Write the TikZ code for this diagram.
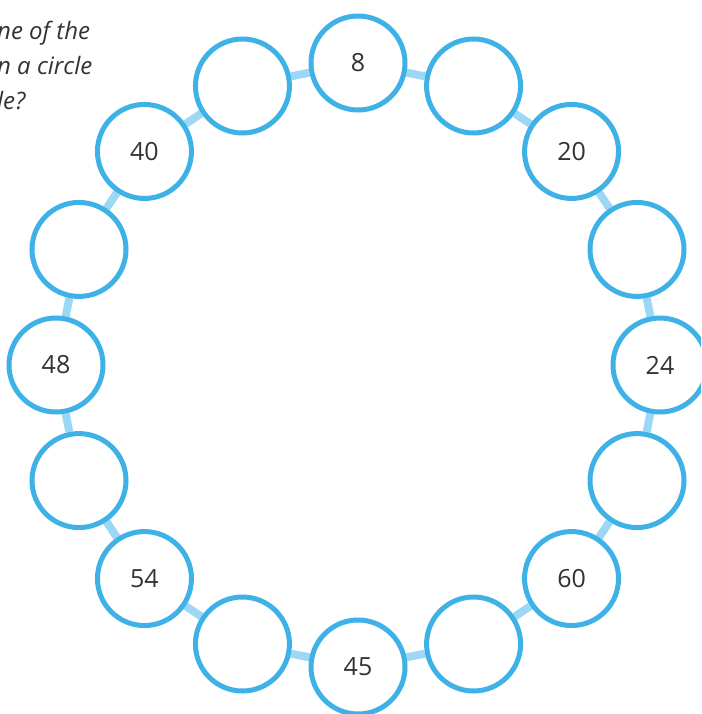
\documentclass[tikz,border=0pt]{standalone}
\usepackage{fontspec}
\setmainfont{Open Sans}
\usetikzlibrary{backgrounds}
\definecolor{ringblue}{RGB}{62,177,230}
\definecolor{linkblue}{RGB}{156,216,245}
\definecolor{inkgrey}{RGB}{51,51,51}

\begin{document}
\begin{tikzpicture}[
  x=1pt,y=-1pt,
  numcircle/.style={circle,draw=ringblue,line width=5pt,fill=white,minimum size=94pt,inner sep=0pt,font=\fontsize{25}{30}\selectfont,text=inkgrey},
  link/.style={draw=linkblue,line width=8pt},
  question/.style={inner sep=0pt,align=left,font=\fontsize{24}{35}\selectfont\itshape,text=inkgrey}
]
\useasboundingbox (0,0) rectangle (701,714);
\clip (0,0) rectangle (701,714);
\node[question,anchor=north west] (quest) at (-3,21) {ne of the\\n a circle\\le?};
% ring of sixteen circles, clockwise from the top
\foreach \lbl [count=\i from 0] in {8,,20,,24,,60,,45,,54,,48,,40,}
  \node[numcircle] (c\i) at ({358+302*cos(90-22.5*\i)},{365-302*sin(90-22.5*\i)}) {\lbl};
\begin{scope}[on background layer]
\foreach \i [evaluate=\i as \j using {int(mod(\i+1,16))}] in {0,...,15}
  \draw[link] (c\i) -- (c\j);
\end{scope}
\end{tikzpicture}
\end{document}
